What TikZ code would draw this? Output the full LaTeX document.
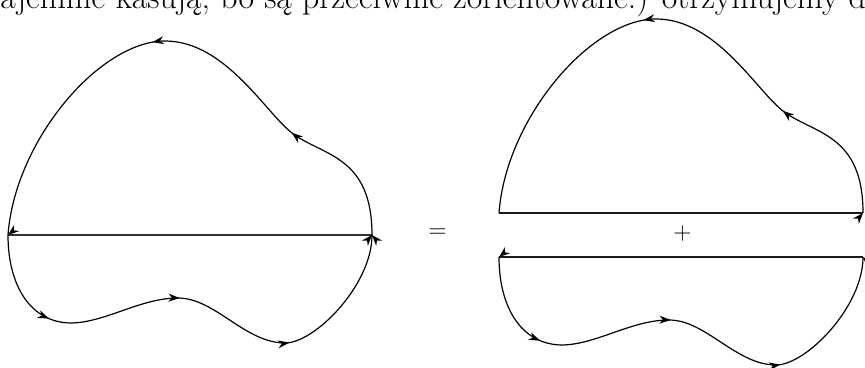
\documentclass[tikz,border=0pt]{standalone}
\usetikzlibrary{arrows.meta,decorations.markings}
\tikzset{
  curve/.style={line width=0.6pt, black},
  chordL/.style={line width=1pt, black!80},
  chordR/.style={line width=0.7pt, black!90},
  midarr/.style={postaction={decorate,decoration={markings,
      mark=at position #1 with {\arrow{Stealth[length=5.6pt,width=4pt]}}}}},
  arrowhd/.pic={\fill (0,0) -- (-11,4) -- (-7.5,0) -- (-11,-4) -- cycle;}
}
\begin{document}
\begin{tikzpicture}[x=0.5pt,y=-0.5pt]
\useasboundingbox (0,0) rectangle (865,368);
\begin{scope}
\clip (0,0) rectangle (865,368);
\node[anchor=base west, inner sep=0pt] (txt) at (0,9)
  {\fontsize{16.9}{20}\selectfont ajemnie kasują, bo są przeciwnie zorientowane.) otrzymujemy d};

% ---------- left figure ----------
\coordinate (L1) at (8,235);
\coordinate (L2) at (372,235);
\draw[chordL] (L1) -- (L2);
\draw[curve, midarr=0.247, midarr=0.552]
  (L2) .. controls (372,155) and (322,156) .. (292,133)
       .. controls (265,112) and (225,41) .. (165,41)
       .. controls (100,41) and (15,140) .. (L1);
\draw[curve, midarr=0.198, midarr=0.469, midarr=0.711]
  (L1) .. controls (8,285) and (30,322) .. (70,323)
       .. controls (105,323) and (140,298) .. (178,298)
       .. controls (215,298) and (245,343) .. (285,343)
       .. controls (315,343) and (372,285) .. (L2);
\pic[rotate=219] at (L1) {arrowhd};
\pic[rotate=49] at (L2) {arrowhd};
\pic[rotate=131] at (L2) {arrowhd};

\node[font=\fontsize{12}{14}\selectfont] (eq) at (437.5,233) {$=$};
\node[font=\fontsize{12}{14}\selectfont] (pl) at (682.5,234) {$+$};

% ---------- right figure, upper half ----------
\begin{scope}[shift={(491,-22)}]
\coordinate (U1) at (8,235);
\coordinate (U2) at (372,235);
\draw[chordR] (U1) -- (U2);
\draw[curve, midarr=0.247, midarr=0.552]
  (U2) .. controls (372,155) and (322,156) .. (292,133)
       .. controls (265,112) and (225,41) .. (165,41)
       .. controls (100,41) and (15,140) .. (U1);
\pic[rotate=49] at (U2) {arrowhd};
\end{scope}

% ---------- right figure, lower half ----------
\begin{scope}[shift={(491,22)}]
\coordinate (D1) at (8,235);
\coordinate (D2) at (372,235);
\draw[chordR] (D2) -- (D1);
\draw[curve, midarr=0.198, midarr=0.469, midarr=0.711]
  (D1) .. controls (8,285) and (30,322) .. (70,323)
       .. controls (105,323) and (140,298) .. (178,298)
       .. controls (215,298) and (245,343) .. (285,343)
       .. controls (315,343) and (372,285) .. (D2);
\pic[rotate=219] at (D1) {arrowhd};
\pic[rotate=131] at (D2) {arrowhd};
\end{scope}
\end{scope}
\end{tikzpicture}
\end{document}
